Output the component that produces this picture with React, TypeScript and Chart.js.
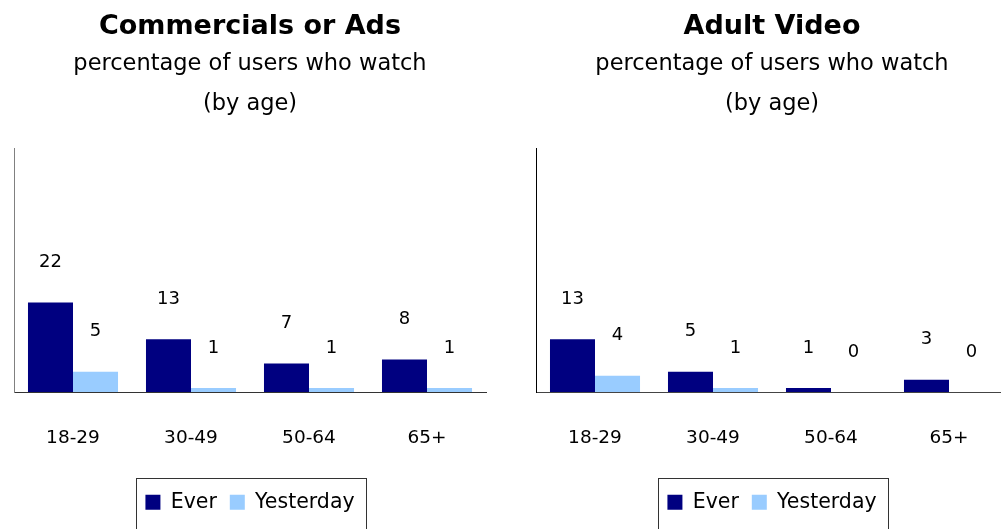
import React, { useEffect, useRef } from "react";
import { Chart, registerables } from "chart.js";

Chart.register(...registerables);

const ageGroups = ["18-29", "30-49", "50-64", "65+"];
const seriesLabels = ["Ever", "Yesterday"];
const adsEver = [22, 13, 7, 8];
const adsYesterday = [5, 1, 1, 1];
const adultEver = [13, 5, 1, 3];
const adultYesterday = [4, 1, 0, 0];
const chartTitles = ["Commercials or Ads", "Adult Video"];
const subtitleLines = ["percentage of users who watch", "(by age)"];
const yAxisMax = 60;

const FONT = "'DejaVu Sans', sans-serif";
const NAVY = "#000080";
const LIGHT = "#99CCFF";
const CANVAS_W = 500;
const CANVAS_H = 529;

const valueLabels = {
  id: "valueLabels",
  afterDatasetsDraw(chart: any) {
    const ctx = chart.ctx;
    ctx.save();
    ctx.font = `18px ${FONT}`;
    ctx.fillStyle = "#000";
    ctx.textAlign = "center";
    ctx.textBaseline = "middle";
    chart.data.datasets.forEach((ds: any, i: number) => {
      const meta = chart.getDatasetMeta(i);
      meta.data.forEach((bar: any, j: number) => {
        ctx.fillText(String(ds.data[j]), bar.x, bar.y - 40);
      });
    });
    ctx.restore();
  },
};

const legendFrame = {
  id: "legendFrame",
  afterDraw(chart: any) {
    const lg = chart.legend;
    if (!lg || !lg.legendHitBoxes || !lg.legendHitBoxes.length) return;
    const boxes = lg.legendHitBoxes;
    const left = Math.round(boxes[0].left - 9) + 0.5;
    const last = boxes[boxes.length - 1];
    const right = Math.round(last.left + last.width + 11) + 0.5;
    const top = Math.round(lg.top - 1) + 0.5;
    const ctx = chart.ctx;
    ctx.save();
    ctx.strokeStyle = "#333";
    ctx.lineWidth = 1;
    ctx.strokeRect(left, top, right - left, chart.height + 20 - top);
    ctx.restore();
  },
};

function Panel(props: { title: string; ever: number[]; yesterday: number[]; yBorder: string; xBorder: string }) {
  const ref = useRef<HTMLCanvasElement | null>(null);
  useEffect(() => {
    if (!ref.current) return;
    const chart = new Chart(ref.current, {
      type: "bar",
      data: {
        labels: ageGroups,
        datasets: [
          { label: seriesLabels[0], data: props.ever, backgroundColor: NAVY, borderWidth: 0 },
          { label: seriesLabels[1], data: props.yesterday, backgroundColor: LIGHT, borderWidth: 0 },
        ],
      },
      options: {
        responsive: false,
        animation: false,
        devicePixelRatio: 1,
        layout: { padding: { left: 14, right: 14, top: 0, bottom: 6.5 } },
        datasets: { bar: { categoryPercentage: 0.763, barPercentage: 1 } },
        scales: {
          x: {
            grid: { display: false, drawTicks: false },
            border: { display: true, color: props.xBorder },
            ticks: { font: { family: FONT, size: 18.5 }, color: "#000", padding: 35 },
            afterFit: (s: any) => {
              s.height = 87;
            },
          },
          y: {
            min: 0,
            max: yAxisMax,
            grid: { display: false, drawTicks: false },
            ticks: { display: false },
            border: { display: true, color: props.yBorder },
            afterFit: (s: any) => {
              s.width = 0;
            },
          },
        },
        plugins: {
          title: {
            display: true,
            text: props.title,
            font: { family: FONT, size: 27, weight: "bold" },
            color: "#000",
            padding: { top: 10.8, bottom: 0 },
          },
          subtitle: {
            display: true,
            text: subtitleLines,
            font: { family: FONT, size: 22.5, lineHeight: 40 / 22.5 },
            color: "#000",
            padding: { top: 0.8, bottom: 24 },
          },
          legend: {
            position: "bottom",
            labels: {
              boxWidth: 15,
              boxHeight: 15,
              padding: 13,
              font: { family: FONT, size: 20.5 },
              color: "#000",
            },
          },
          tooltip: { enabled: false },
        },
      } as any,
      plugins: [valueLabels, legendFrame],
    });
    return () => chart.destroy();
  }, []);
  return (
    <canvas
      ref={ref}
      width={CANVAS_W}
      height={CANVAS_H}
      style={{ display: "block", width: CANVAS_W, height: CANVAS_H }}
    />
  );
}

export default function App() {
  return (
    <div
      style={{
        position: "absolute",
        left: 0,
        top: 0,
        width: 1001,
        height: 529,
        overflow: "hidden",
        background: "#fff",
      }}
    >
      <div style={{ position: "absolute", left: 0, top: 0 }}>
        <Panel title={chartTitles[0]} ever={adsEver} yesterday={adsYesterday} yBorder="#808080" xBorder="#333" />
      </div>
      <div style={{ position: "absolute", left: 522, top: 0 }}>
        <Panel title={chartTitles[1]} ever={adultEver} yesterday={adultYesterday} yBorder="#000" xBorder="#444" />
      </div>
    </div>
  );
}
